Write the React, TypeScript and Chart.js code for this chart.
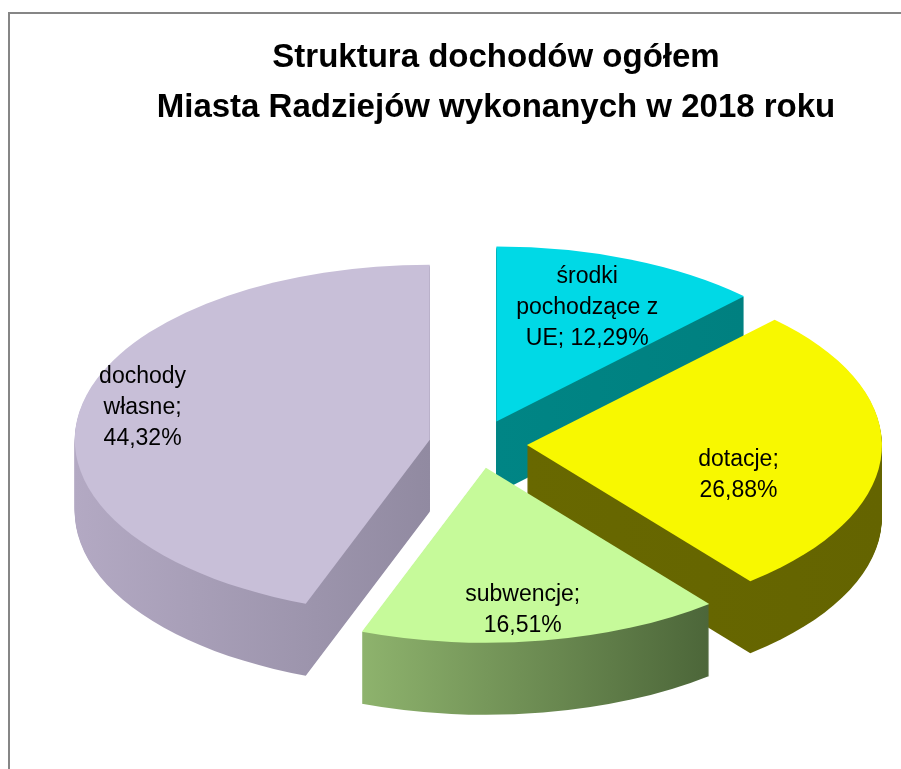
import React, { useEffect, useRef } from 'react';
import { Chart, registerables } from 'chart.js';

Chart.register(...registerables);

// ---- data ----
const categories = ['środki pochodzące z UE', 'dotacje', 'subwencje', 'dochody własne'];
const shares = [12.29, 26.88, 16.51, 44.32];
const titleLines = ['Struktura dochodów ogółem', 'Miasta Radziejów wykonanych w 2018 roku'];

// ---- styles ----
const topColors = ['#00d9e6', '#f8f800', '#c6fa9a', '#c8bfd8'];
const sideLight = ['#008585', '#686800', '#8eb36d', '#b3a9c3'];
const sideDark = ['#008080', '#646400', '#4c6639', '#918aa1'];
const labelRadius = [0.7, 0.62, 0.82, 0.83];
const labelAngleShift = [-0.7, 13.4, 2, 2.7];
const drawOrder = [0, 3, 1, 2];

const DEPTH = 72;
const TILT = 0.493;
const SHIFT_X = -18;
const LABEL_FONT = '23px "Liberation Sans", Arial, sans-serif';
const LABEL_LINE = 31;
const LABEL_MAX_W = 155;

const fmt = (v: number) => v.toFixed(2).replace('.', ',') + '%';

function wrap(ctx: CanvasRenderingContext2D, text: string, maxW: number): string[] {
  const words = text.split(' ');
  const lines: string[] = [];
  let cur = '';
  for (const w of words) {
    const t = cur ? cur + ' ' + w : w;
    if (cur && ctx.measureText(t).width > maxW) {
      lines.push(cur);
      cur = w;
    } else cur = t;
  }
  if (cur) lines.push(cur);
  return lines;
}

const pie3d = {
  id: 'pie3d',
  beforeDraw(chart: any) {
    const ctx: CanvasRenderingContext2D = chart.ctx;
    ctx.save();
    ctx.fillStyle = '#ffffff';
    ctx.fillRect(0, 0, chart.width, chart.height);
    ctx.strokeStyle = '#868686';
    ctx.lineWidth = 2;
    ctx.strokeRect(9, 13, chart.width + 20, chart.height + 20);
    ctx.restore();
  },
  beforeDatasetsDraw(chart: any) {
    const ctx: CanvasRenderingContext2D = chart.ctx;
    const arcs = chart.getDatasetMeta(0).data;
    const shapes = arcs.map((a: any) => {
      const p = a.getProps(['x', 'y', 'startAngle', 'endAngle', 'outerRadius'], true);
      const mid = (p.startAngle + p.endAngle) / 2;
      const off = a.options.offset || 0;
      let xmin = Math.cos(mid) * off;
      let xmax = xmin;
      for (let k = 0; k <= 60; k++) {
        const ang = p.startAngle + ((p.endAngle - p.startAngle) * k) / 60;
        const xx = Math.cos(mid) * off + p.outerRadius * Math.cos(ang);
        xmin = Math.min(xmin, xx);
        xmax = Math.max(xmax, xx);
      }
      return { ...p, mid, ox: Math.cos(mid) * off, oy: Math.sin(mid) * off, xmin, xmax };
    });

    const path = (s: any) => {
      ctx.beginPath();
      ctx.moveTo(s.ox, s.oy);
      ctx.arc(s.ox, s.oy, s.outerRadius, s.startAngle, s.endAngle);
      ctx.closePath();
    };

    // extruded sides
    for (const i of drawOrder) {
      const s = shapes[i];
      for (let dz = DEPTH; dz >= 1; dz--) {
        ctx.save();
        ctx.translate(s.x + SHIFT_X, s.y + dz);
        ctx.scale(1, TILT);
        const g = ctx.createLinearGradient(s.xmin, 0, s.xmax, 0);
        g.addColorStop(0, sideLight[i]);
        g.addColorStop(1, sideDark[i]);
        ctx.fillStyle = g;
        path(s);
        ctx.fill();
        ctx.restore();
      }
    }
    // top faces
    for (const i of drawOrder) {
      const s = shapes[i];
      ctx.save();
      ctx.translate(s.x + SHIFT_X, s.y);
      ctx.scale(1, TILT);
      ctx.fillStyle = topColors[i];
      path(s);
      ctx.fill();
      ctx.restore();
    }
    // labels
    ctx.save();
    ctx.font = LABEL_FONT;
    ctx.fillStyle = '#000000';
    ctx.textAlign = 'center';
    ctx.textBaseline = 'middle';
    shapes.forEach((s: any, i: number) => {
      const ang = s.mid + (labelAngleShift[i] * Math.PI) / 180;
      const r = labelRadius[i] * s.outerRadius;
      const lx = s.x + SHIFT_X + s.ox + r * Math.cos(ang);
      const ly = s.y + TILT * (s.oy + r * Math.sin(ang));
      const lines = wrap(ctx, `${categories[i]}; ${fmt(shares[i])}`, LABEL_MAX_W);
      const y0 = ly - ((lines.length - 1) * LABEL_LINE) / 2;
      lines.forEach((ln, k) => ctx.fillText(ln, lx, y0 + k * LABEL_LINE));
    });
    ctx.restore();
    return false;
  },
};

export default function App() {
  const ref = useRef<HTMLCanvasElement | null>(null);
  useEffect(() => {
    if (!ref.current) return;
    const chart = new Chart(ref.current, {
      type: 'pie',
      data: {
        labels: categories,
        datasets: [
          {
            data: shares,
            backgroundColor: topColors,
            borderWidth: 0,
            offset: 49,
            radius: 355,
          } as any,
        ],
      },
      options: {
        responsive: false,
        animation: false,
        devicePixelRatio: 1,
        layout: { padding: { left: 91, right: 0, top: 0, bottom: 14 } },
        plugins: {
          legend: { display: false },
          tooltip: { enabled: false },
          title: {
            display: true,
            text: titleLines,
            color: '#000000',
            font: { family: '"Liberation Sans", Arial, sans-serif', size: 33, weight: 'bold', lineHeight: '50px' } as any,
            padding: { top: 33, bottom: 0 },
          },
        },
      } as any,
      plugins: [pie3d as any],
    });
    return () => chart.destroy();
  }, []);
  return (
    <div style={{ position: 'absolute', left: 0, top: 0, width: 901, height: 769, overflow: 'hidden', background: '#fff' }}>
      <canvas ref={ref} width={901} height={769} style={{ display: 'block' }} />
    </div>
  );
}
